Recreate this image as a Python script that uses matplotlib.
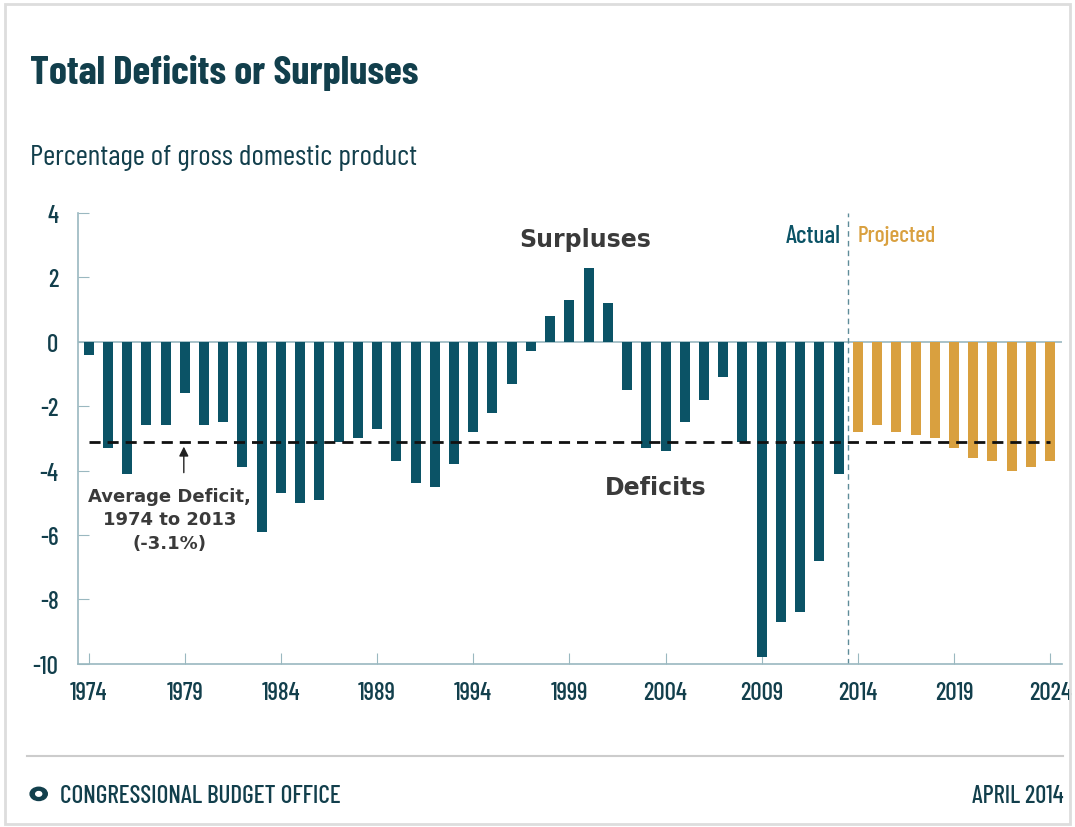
import matplotlib
matplotlib.use("Agg")
import matplotlib.pyplot as plt
import matplotlib.patches as mpatches

# data (percent of GDP)
years_actual = list(range(1974, 2014))
deficit_actual = [-0.4, -3.3, -4.1, -2.6, -2.6, -1.6, -2.6, -2.5, -3.9, -5.9,
                  -4.7, -5.0, -4.9, -3.1, -3.0, -2.7, -3.7, -4.4, -4.5, -3.8,
                  -2.8, -2.2, -1.3, -0.3, 0.8, 1.3, 2.3, 1.2, -1.5, -3.3,
                  -3.4, -2.5, -1.8, -1.1, -3.1, -9.8, -8.7, -8.4, -6.8, -4.1]
years_proj = list(range(2014, 2025))
deficit_proj = [-2.8, -2.6, -2.8, -2.9, -3.0, -3.3, -3.6, -3.7, -4.0, -3.9, -3.7]
avg_deficit = -3.1
xticks = list(range(1974, 2025, 5))
yticks = [4, 2, 0, -2, -4, -6, -8, -10]

teal = "#0b5366"
gold = "#d9a03f"
dark = "#123f4c"
axis_col = "#9ab8c0"
label_grey = "#3a3a3a"

plt.rcParams['font.family'] = ['Barlow Condensed', 'DejaVu Sans']
bold_family = ['DejaVu Sans']

fig = plt.figure(figsize=(10.75, 8.28), dpi=100)
ax = fig.add_axes([0.0726, 0.197, 0.915, 0.5447])
renderer = fig.canvas.get_renderer()


def fit(t, width_px):
    # scale the font so the text is as wide as in the reference
    w = t.get_window_extent(renderer).width
    t.set_fontsize(t.get_fontsize() * width_px / w)


ax.bar(years_actual, deficit_actual, width=0.52, color=teal, zorder=2)
ax.bar(years_proj, deficit_proj, width=0.52, color=gold, zorder=2)

ax.axhline(0, color=axis_col, lw=1.2, zorder=1)
ax.hlines(avg_deficit, 1974, 2024, colors="#111111", linestyles=(0, (4, 2.5)), lw=2, zorder=3)
ax.axvline(2013.5, color="#5e8c99", lw=1, linestyle=(0, (4, 3)), zorder=1)

ax.set_xlim(1973.45, 2024.6)
ax.set_ylim(-10, 4)
ax.set_xticks(xticks)
ax.set_xticklabels([str(v) for v in xticks])
ax.set_yticks(yticks)
ax.set_yticklabels([str(v) for v in yticks])

for s in ["top", "right"]:
    ax.spines[s].set_visible(False)
for s in ["left", "bottom"]:
    ax.spines[s].set_color(axis_col)
    ax.spines[s].set_linewidth(1.2)
ax.tick_params(axis="both", direction="in", length=8, color=axis_col,
               labelsize=18, labelcolor=dark)
ax.tick_params(axis="x", pad=12)
ax.tick_params(axis="y", pad=14)
for lab in ax.get_xticklabels() + ax.get_yticklabels():
    lab.set_fontweight(500)
    lab.set_fontsize(18)

ax.text(1999.8, 3.2, "Surpluses", ha="center", va="center", fontsize=17,
        fontweight="bold", color=label_grey, family=bold_family)
ax.text(2003.5, -4.5, "Deficits", ha="center", va="center", fontsize=17,
        fontweight="bold", color=label_grey, family=bold_family)
t_act = ax.text(2013.1, 3.3, "Actual", ha="right", va="center", fontsize=16,
                color=teal, fontweight=500)
t_proj = ax.text(2014.0, 3.3, "Projected", ha="left", va="center", fontsize=16,
                 color=gold, fontweight=500)

ax.annotate("", xy=(1978.95, -3.17), xytext=(1978.95, -4.15),
            arrowprops=dict(arrowstyle="-|>", color="#222222", lw=1, mutation_scale=14))
ax.text(1978.2, -4.5, "Average Deficit,\n1974 to 2013\n(-3.1%)", ha="center", va="top",
        fontsize=13, fontweight="bold", color=label_grey, linespacing=1.4,
        family=bold_family)

t_title = fig.text(0.028, 0.912, "Total Deficits or Surpluses", fontsize=34,
                   fontweight="bold", color=dark, va="center")
t_sub = fig.text(0.028, 0.809, "Percentage of gross domestic product", fontsize=20,
                 color=dark, va="center")

fig.add_artist(plt.Line2D([0.025, 0.989], [0.086, 0.086], transform=fig.transFigure,
                          color="#cccccc", lw=1.5))
fig.add_artist(mpatches.Circle((0.036, 0.04), 0.008, transform=fig.transFigure,
                               color=dark))
fig.add_artist(mpatches.Circle((0.036, 0.04), 0.0028, transform=fig.transFigure,
                               color="white"))
t_cbo = fig.text(0.056, 0.038, "CONGRESSIONAL BUDGET OFFICE", fontsize=15, color=dark,
                 va="center", fontweight=500)
t_date = fig.text(0.989, 0.038, "APRIL 2014", fontsize=15, color=dark, va="center",
                  ha="right", fontweight=500)

fit(t_title, 388)
fit(t_sub, 387)
fit(t_cbo, 280)
fit(t_date, 91)
fit(t_act, 55)
fit(t_proj, 79)

fig.add_artist(mpatches.Rectangle((0.005, 0.004), 0.99, 0.99, transform=fig.transFigure,
                                  fill=False, edgecolor="#dddddd", lw=2))

fig.savefig("out.png", dpi=100)
